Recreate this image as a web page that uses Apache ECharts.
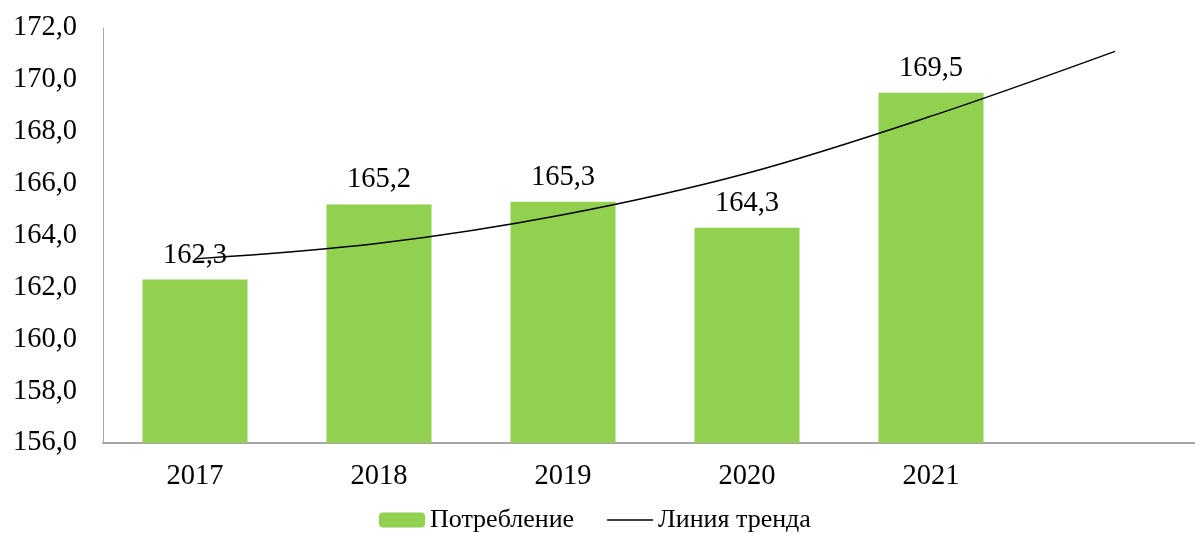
<!DOCTYPE html>
<html>
<head>
<meta charset="utf-8">
<script src="https://cdn.jsdelivr.net/npm/echarts@6/dist/echarts.min.js"></script>
<style>
    html, body { margin: 0; padding: 0; background: #fff; overflow: hidden; }
    #container { width: 1207px; height: 535px; }
</style>
</head>
<body>
<div id="container"></div>
<script>
// the plot runs a little past the right edge of the picture, so the div is wider than the window
let chart = echarts.init(document.getElementById('container'));

// years (last slot is empty, trend line runs into it)
var years = ['2017', '2018', '2019', '2020', '2021', ''];
var consumption = [162.3, 165.2, 165.3, 164.3, 169.5, null];
var trend = [163.1, 163.7, 164.8, 166.4, 168.6, 171.1];
var yTicks = { min: 156, max: 172, step: 2 };

var font = 'Liberation Serif';
var comma = function (v) { return Number(v).toFixed(1).replace('.', ','); };

var option = {
    animation: false,
    textStyle: { fontFamily: font },
    grid: {
        left: 103,
        right: 0,
        top: 28,
        bottom: 92,
    },
    legend: {
        top: 507,
        left: 379,
        padding: 0,
        itemWidth: 46,
        itemHeight: 15,
        itemGap: 33,
        textStyle: { fontFamily: font, fontSize: 26, color: '#000' },
        data: [
            { name: 'Потребление' },
            { name: 'Линия тренда', icon: 'path://M0,0 L46,0 L46,1.4 L0,1.4 Z' },
        ],
    },
    xAxis: {
        type: 'category',
        data: years,
        axisLine: { lineStyle: { color: '#a6a6a6', width: 2 } },
        axisTick: { show: false },
        axisLabel: {
            margin: 19,
            fontFamily: font,
            fontSize: 28.5,
            color: '#000',
        },
    },
    yAxis: {
        type: 'value',
        min: yTicks.min,
        max: yTicks.max,
        interval: yTicks.step,
        splitLine: { show: false },
        axisLine: { show: true, lineStyle: { color: '#a6a6a6', width: 1 } },
        axisTick: { show: false },
        axisLabel: {
            margin: 26,
            fontFamily: font,
            fontSize: 28.5,
            color: '#000',
            formatter: comma,
        },
    },
    series: [
        {
            name: 'Потребление',
            type: 'bar',
            data: consumption,
            barWidth: 105,
            itemStyle: { color: '#92d050' },
            label: {
                show: true,
                position: 'top',
                distance: 10,
                fontFamily: font,
                fontSize: 28.5,
                color: '#000',
                formatter: function (p) { return comma(p.value); },
            },
        },
        {
            name: 'Линия тренда',
            type: 'line',
            data: trend,
            smooth: 0.35,
            symbol: 'none',
            lineStyle: { color: '#000', width: 1.4 },
            itemStyle: { color: '#000' },
            z: 5,
        },
    ],
};

chart.setOption(option);
</script>
</body>
</html>
